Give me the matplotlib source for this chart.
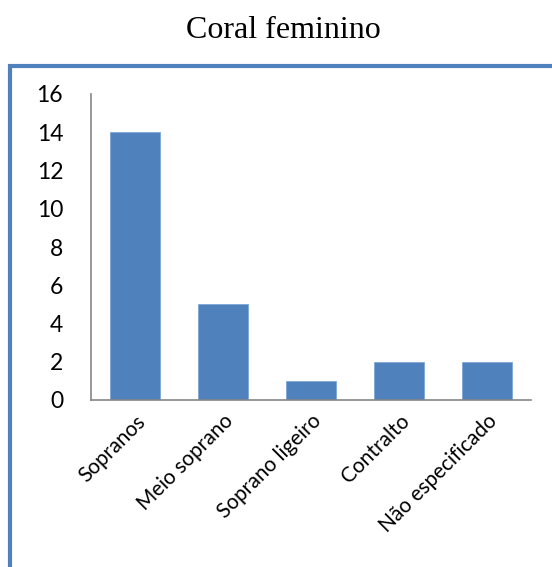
import matplotlib.pyplot as plt
from matplotlib.patches import Rectangle

categories = ["Sopranos", "Meio soprano", "Soprano ligeiro", "Contralto", "Não especificado"]
values = [14, 5, 1, 2, 2]
yticks = [0, 2, 4, 6, 8, 10, 12, 14, 16]

bar_color = "#4F81BD"
axis_color = "#868686"

fig = plt.figure(figsize=(5.52, 5.67), dpi=100)

# blue frame (only left and top edges visible)
fig.add_artist(Rectangle((9.5 / 552, -0.1), 1.2, 1.0 - 65.5 / 567 + 0.1,
                         transform=fig.transFigure, fill=False,
                         edgecolor=bar_color, linewidth=3))

fig.text(283 / 552, 1 - 31 / 567, "Coral feminino", ha="center", va="center",
         fontsize=23, family="Liberation Serif")

ax = fig.add_axes([91 / 552, 1 - 400 / 567, 440 / 552, 306 / 567])
x = range(len(categories))
ax.bar(x, values, width=0.56, color=bar_color, edgecolor="#7FA6D6", linewidth=0.6)
ax.set_xlim(-0.5, len(categories) - 0.5)
ax.set_ylim(0, 16)
ax.set_yticks(yticks)
ax.set_xticks(list(x))
ax.set_xticklabels(categories, rotation=45, ha="right", rotation_mode="anchor",
                   fontsize=15, family="Lato")
for lab in ax.get_yticklabels():
    lab.set_family("Lato")
    lab.set_fontsize(16.5)
ax.tick_params(axis="y", length=0, pad=20)
ax.tick_params(axis="x", length=0, pad=8)
for s in ["top", "right"]:
    ax.spines[s].set_visible(False)
for s in ["left", "bottom"]:
    ax.spines[s].set_color(axis_color)
    ax.spines[s].set_linewidth(1.2)

fig.savefig("out.png", dpi=100)
